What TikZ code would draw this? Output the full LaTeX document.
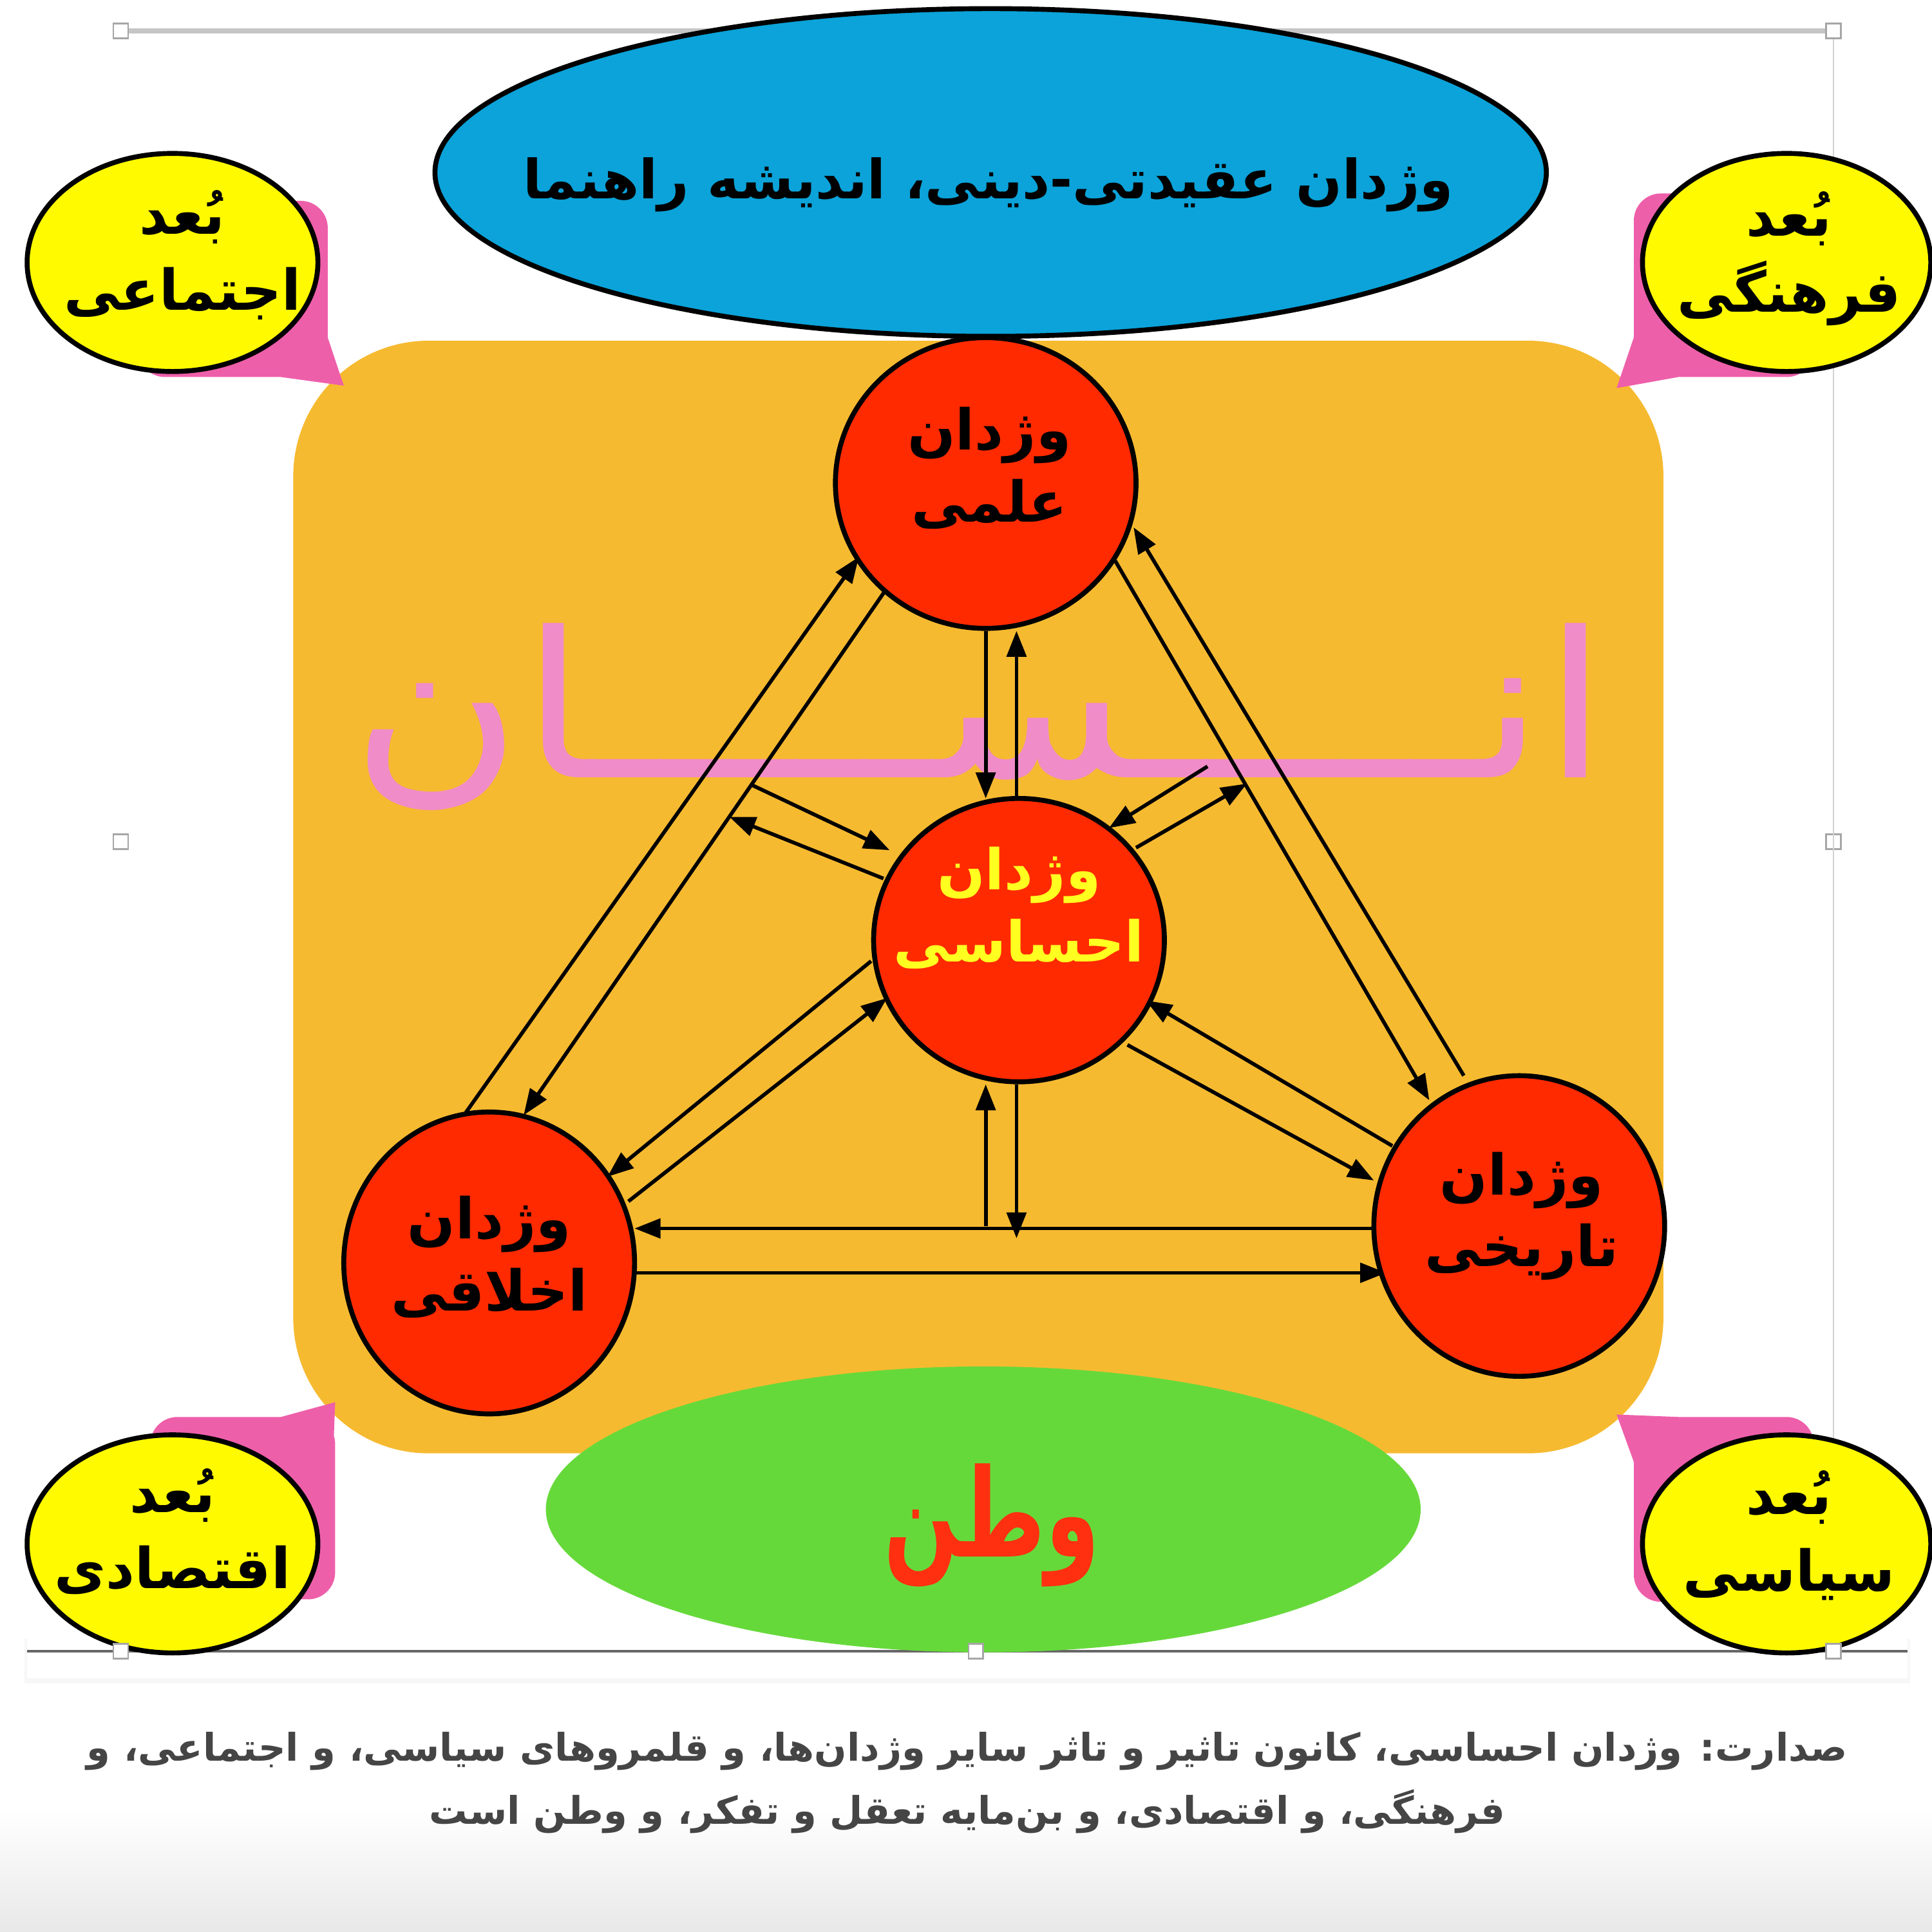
\documentclass[tikz,border=0pt]{standalone}
\usepackage{fontspec}
\newfontfamily\arabicfont[Script=Arabic]{DejaVu Sans}
\TeXXeTstate=1
\usetikzlibrary{arrows.meta,shapes.geometric,calc}
\newcommand{\rl}[1]{\beginR #1\endR}
\newcommand{\fs}[1]{\fontsize{#1}{1.2\dimexpr #1\relax}\selectfont}
\definecolor{orangebg}{HTML}{F6BA30}
\definecolor{bluebg}{HTML}{0BA3D9}
\definecolor{yellowbg}{HTML}{FFFA00}
\definecolor{redbg}{HTML}{FF2A00}
\definecolor{pinkcall}{HTML}{EE5FAA}
\definecolor{pinkwm}{HTML}{F08CC8}
\definecolor{greenbg}{HTML}{66D93A}
\definecolor{vatanred}{HTML}{FF3010}
\definecolor{captiongray}{HTML}{454545}
\definecolor{yellowtxt}{HTML}{FFFF20}
\tikzset{
  conn/.style={line width=3*0.02cm, -{Triangle[length=12pt,width=9pt]}},
  redcirc/.style={ellipse, fill=redbg, draw=black, line width=4*0.02cm, inner sep=0pt},
  yellowell/.style={ellipse, fill=yellowbg, draw=black, line width=4*0.02cm, inner sep=0pt},
  handle/.style={rectangle, fill=white, draw=gray!70, line width=0.8pt, minimum size=12*0.02cm, inner sep=0pt},
  ctext/.style={font=\arabicfont\bfseries\fs{26pt}, align=center, inner sep=0pt},
  ytext/.style={font=\arabicfont\bfseries\fs{26pt}, align=center, inner sep=0pt},
}
\begin{document}
\begin{tikzpicture}[x=0.02cm,y=-0.02cm]
\useasboundingbox (0,0) rectangle (1568,1568);
% background
\fill[white] (0,0) rectangle (1568,1568);
\shade[top color=white, bottom color=gray!18] (0,1470) rectangle (1568,1568);
\fill[gray!6] (20,1330) rectangle (1550,1366);
\fill[white] (22,0) rectangle (1548,1362);
% frame handles and lines
\node[handle] (hTL) at (98,25) {};
\node[handle] (hTR) at (1488,25) {};
\node[handle] (hML) at (98,683) {};
\node[handle] (hMR) at (1488,683) {};
\node[handle] (hBL) at (98,1340) {};
\node[handle] (hBM) at (792,1340) {};
\node[handle] (hBR) at (1488,1340) {};
\coordinate (bl0) at (22,1340);
\coordinate (br0) at (1548,1340);
\draw[gray!45, line width=4*0.02cm] (hTL) -- (hTR);
\draw[gray!35, line width=1*0.02cm] (hTR) -- (hBR);
\draw[gray!80!black, line width=2*0.02cm] (bl0) -- (br0);
% main orange area
\node[fill=orangebg, rounded corners=110*0.02cm, minimum width=1112*0.02cm, minimum height=903*0.02cm, inner sep=0pt] (human) at (794,728) {};
% pink callouts
\fill[pinkcall, rounded corners=22*0.02cm] (112,163) rectangle (266,306);
\fill[pinkcall] (262,262) -- (279,313) -- (228,306) -- cycle;
\fill[pinkcall, rounded corners=22*0.02cm] (1326,157) rectangle (1472,306);
\fill[pinkcall] (1330,262) -- (1312,315) -- (1362,306) -- cycle;
\fill[pinkcall, rounded corners=22*0.02cm] (122,1150) rectangle (272,1298);
\fill[pinkcall] (228,1150) -- (272,1138) -- (270,1190) -- cycle;
\fill[pinkcall, rounded corners=22*0.02cm] (1326,1150) rectangle (1472,1300);
\fill[pinkcall] (1328,1192) -- (1312,1148) -- (1362,1150) -- cycle;
% watermark
\node[inner sep=0pt, text=pinkwm] (insan) at (795,582) {\resizebox*{1020\dimexpr 0.02cm\relax}{152\dimexpr 0.02cm\relax}{\arabicfont\fs{60pt}\rl{انـــــســـــان}}};
% arrows
\coordinate (l1a) at (378,903); \coordinate (l1b) at (697,452);
\coordinate (l2a) at (718,480); \coordinate (l2b) at (425,905);
\coordinate (r1a) at (1188,873); \coordinate (r1b) at (920,428);
\coordinate (r2a) at (905,455); \coordinate (r2b) at (1160,893);
\coordinate (v1a) at (800,512); \coordinate (v1b) at (800,648);
\coordinate (v2a) at (825,648); \coordinate (v2b) at (825,512);
\coordinate (ul1a) at (610,637); \coordinate (ul1b) at (722,690);
\coordinate (ul2a) at (717,713); \coordinate (ul2b) at (592,663);
\coordinate (ur1a) at (980,622); \coordinate (ur1b) at (900,672);
\coordinate (ur2a) at (922,688); \coordinate (ur2b) at (1012,636);
\coordinate (ll1a) at (707,780); \coordinate (ll1b) at (493,955);
\coordinate (ll2a) at (510,975); \coordinate (ll2b) at (720,810);
\coordinate (lr1a) at (1130,930); \coordinate (lr1b) at (930,812);
\coordinate (lr2a) at (915,848); \coordinate (lr2b) at (1115,958);
\coordinate (b1a) at (800,995); \coordinate (b1b) at (800,880);
\coordinate (b2a) at (825,880); \coordinate (b2b) at (825,1005);
\coordinate (hz1a) at (1115,997); \coordinate (hz1b) at (515,997);
\coordinate (hz2a) at (515,1033); \coordinate (hz2b) at (1125,1033);
\foreach \s in {l1,l2,r1,r2,v1,v2,ul1,ul2,ur1,ur2,ll1,ll2,lr1,lr2,b1,b2,hz1,hz2}
  \draw[conn] (\s a) -- (\s b);
% red circles
\node[redcirc, minimum width=244*0.02cm, minimum height=236*0.02cm] (elmi) at (800,392) {};
\node[redcirc, minimum width=236*0.02cm, minimum height=230*0.02cm] (ehsasi) at (827,763) {};
\node[redcirc, minimum width=236*0.02cm, minimum height=245*0.02cm] (akhlaqi) at (397,1025) {};
\node[redcirc, minimum width=236*0.02cm, minimum height=244*0.02cm] (tarikhi) at (1233,995) {};
\node[ctext] (telmi) at (803,380) {\rl{وژدان}\\[2pt]\rl{علمی}};
\node[ctext, text=yellowtxt] (tehsasi) at (827,737) {\rl{وژدان}\\[2pt]\rl{احساسی}};
\node[ctext] (takhlaqi) at (397,1020) {\rl{وژدان}\\[2pt]\rl{اخلاقی}};
\node[ctext] (ttarikhi) at (1235,987) {\rl{وژدان}\\[2pt]\rl{تاریخی}};
% blue ellipse
\node[ellipse, fill=bluebg, draw=black, line width=4*0.02cm, minimum width=902*0.02cm, minimum height=266*0.02cm, inner sep=0pt] (aqidati) at (804,140) {};
\node[font=\arabicfont\bfseries\fs{25pt}, inner sep=0pt] (taqidati) at (802,150) {\rl{وژدان عقیدتی-دینی، اندیشه راهنما}};
% green ellipse
\node[ellipse, fill=greenbg, minimum width=710*0.02cm, minimum height=232*0.02cm, inner sep=0pt] (vatan) at (798,1225) {};
\node[text=vatanred, inner sep=0pt] (tvatan) at (805,1238) {\resizebox*{175\dimexpr 0.02cm\relax}{100\dimexpr 0.02cm\relax}{\arabicfont\bfseries\fs{50pt}\rl{وطن}}};
% yellow ellipses
\node[yellowell, minimum width=236*0.02cm, minimum height=177*0.02cm] (ejtemai) at (140,213) {};
\node[yellowell, minimum width=234*0.02cm, minimum height=177*0.02cm] (farhangi) at (1450,213) {};
\node[yellowell, minimum width=236*0.02cm, minimum height=177*0.02cm] (eqtesadi) at (140,1253) {};
\node[yellowell, minimum width=234*0.02cm, minimum height=177*0.02cm] (siasi) at (1450,1253) {};
\node[ytext] (tejtemai) at (148,207) {\rl{بُعد}\\[4pt]\rl{اجتماعی}};
\node[ytext] (tfarhangi) at (1452,210) {\rl{بُعد}\\[4pt]\rl{فرهنگی}};
\node[ytext] (teqtesadi) at (140,1243) {\rl{بُعد}\\[4pt]\rl{اقتصادی}};
\node[ytext] (tsiasi) at (1452,1246) {\rl{بُعد}\\[4pt]\rl{سیاسی}};
% bottom handles on top
\node[handle] at (hBL) {};
\node[handle] at (hBM) {};
\node[handle] at (hBR) {};
% caption
\node[font=\arabicfont\bfseries\fs{17.6pt}, text=captiongray, align=center, inner sep=0pt] (caption) at (785,1447) {\rl{صدارت: وژدان احساسی، کانون تاثیر و تاثر سایر وژدان‌ها، و قلمروهای سیاسی، و اجتماعی، و}\\[8pt]\rl{فرهنگی، و اقتصادی، و بن‌مایه تعقل و تفکر، و وطن است}};
\end{tikzpicture}
\end{document}
